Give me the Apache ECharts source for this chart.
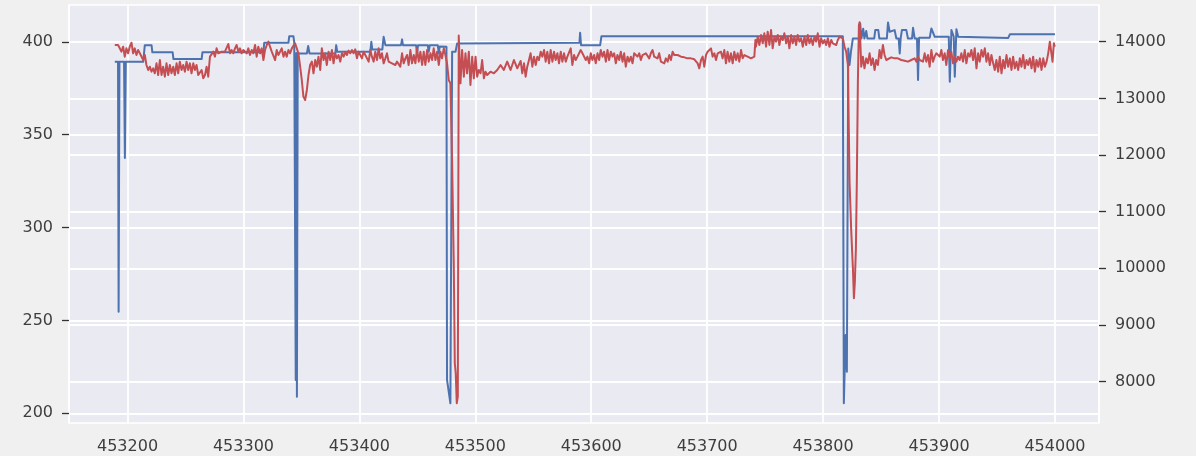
<!DOCTYPE html>
<html>
<head>
<meta charset="utf-8">
<script src="https://cdn.jsdelivr.net/npm/echarts@6/dist/echarts.min.js"></script>
<style>
  html, body { margin: 0; padding: 0; background: #f0f0f0; }
  #chart { width: 1196px; height: 456px; }
</style>
</head>
<body>
<div id="chart"></div>
<script>
// Tick labels for each axis
const xTicks = [453200, 453300, 453400, 453500, 453600, 453700, 453800, 453900, 454000];
const leftTicks = [200, 250, 300, 350, 400];
const rightTicks = [8000, 9000, 10000, 11000, 12000, 13000, 14000];

// Left-axis series: [x, value]
const primaryPoints = [
  [453189.0, 389.2], [453191.8, 389.2], [453192.3, 254.7], [453193.0, 389.2], [453197.0, 389.2],
  [453197.7, 337.4], [453198.5, 389.2], [453213.5, 389.2], [453214.9, 398.2], [453220.7, 398.2],
  [453221.4, 394.3], [453238.9, 394.3], [453239.6, 390.7], [453263.9, 390.7], [453264.6, 394.3],
  [453317.2, 394.3], [453317.9, 399.5], [453338.8, 399.5], [453339.5, 403.0], [453343.1, 403.0],
  [453343.8, 399.5], [453344.6, 399.5], [453345.1, 218.0], [453345.6, 394.0], [453346.1, 208.9],
  [453346.8, 393.7], [453354.7, 393.7], [453355.8, 397.7], [453357.0, 393.7], [453379.2, 393.7],
  [453380.0, 398.2], [453380.9, 394.6], [453409.4, 394.6], [453410.3, 400.0], [453411.1, 395.9],
  [453419.8, 395.9], [453420.9, 402.7], [453422.4, 398.2], [453435.9, 398.2], [453436.8, 401.3],
  [453437.6, 398.2], [453448.9, 398.2], [453449.7, 393.7], [453450.6, 398.2], [453459.0, 398.2],
  [453459.8, 394.6], [453460.7, 398.2], [453467.6, 398.2], [453468.5, 393.7], [453469.3, 397.5],
  [453475.1, 397.3], [453475.6, 218.0], [453477.1, 218.0], [453478.5, 205.4], [453480.0, 394.6],
  [453482.9, 394.6], [453484.3, 399.1], [453589.8, 399.5], [453590.4, 404.8], [453591.2, 398.2],
  [453607.7, 398.2], [453608.8, 403.0], [453817.0, 403.0], [453817.9, 205.4], [453819.4, 242.2],
  [453820.5, 222.4], [453821.7, 396.4], [453822.8, 387.5], [453824.0, 394.6], [453825.7, 401.8],
  [453831.0, 401.8], [453832.0, 409.9], [453833.0, 401.8], [453834.6, 407.0], [453835.6, 401.8],
  [453837.2, 405.8], [453838.2, 401.8], [453844.1, 401.8], [453845.0, 406.3], [453847.6, 406.3],
  [453848.5, 401.8], [453855.0, 401.8], [453856.0, 410.4], [453857.4, 405.4], [453861.7, 406.3],
  [453863.2, 401.8], [453865.2, 401.8], [453866.1, 393.7], [453866.9, 401.8], [453868.0, 406.3],
  [453871.8, 406.3], [453873.2, 401.8], [453876.7, 401.8], [453877.6, 407.5], [453879.0, 401.8],
  [453881.0, 401.8], [453881.9, 379.4], [453882.8, 402.2], [453892.0, 402.2], [453893.4, 407.2],
  [453894.9, 407.5], [453896.3, 402.7], [453908.4, 402.7], [453909.3, 378.5], [453910.7, 406.3],
  [453911.6, 407.2], [453912.7, 402.7], [453913.6, 381.2], [453915.0, 406.8], [453916.5, 402.7],
  [453959.7, 402.1], [453961.1, 404.0], [454000.0, 404.0]
];

// Right-axis series: [x, value]
const secondaryPoints = [
  [453189.0,13942],[453190.4,13912],[453191.8,13942],[453193.3,13883],[453194.7,13824],[453196.2,13912],
  [453197.6,13736],[453199.0,13883],[453200.5,13795],[453201.9,13912],[453203.4,13983],[453204.8,13795],
  [453206.2,13883],[453207.7,13765],[453209.1,13853],[453210.6,13795],[453212.0,13824],[453213.5,13677],
  [453214.9,13765],[453216.3,13589],[453217.8,13501],[453219.2,13559],[453220.7,13471],[453222.1,13530],
  [453223.5,13442],[453225.0,13618],[453226.4,13412],[453227.9,13677],[453229.3,13412],[453230.7,13559],
  [453232.2,13383],[453233.6,13618],[453235.1,13412],[453236.5,13589],[453237.9,13442],[453239.4,13559],
  [453240.8,13412],[453242.3,13618],[453243.7,13442],[453245.1,13648],[453246.6,13501],[453248.0,13589],
  [453249.5,13471],[453250.9,13648],[453252.3,13501],[453253.8,13618],[453255.2,13442],[453256.7,13618],
  [453258.1,13501],[453259.5,13589],[453261.0,13412],[453262.4,13383],[453263.9,13501],[453265.3,13353],
  [453266.8,13412],[453268.2,13559],[453269.6,13383],[453271.1,13736],[453272.5,13706],[453274.0,13824],
  [453275.4,13736],[453276.8,13883],[453278.3,13795],[453279.7,13765],[453281.2,13824],[453282.6,13795],
  [453284.0,13824],[453285.5,13824],[453286.9,13959],[453288.4,13795],[453289.8,13853],[453291.2,13795],
  [453292.7,13883],[453294.1,13942],[453295.6,13824],[453297.0,13883],[453298.4,13795],[453299.9,13853],
  [453301.3,13824],[453302.8,13795],[453304.2,13883],[453305.6,13765],[453307.1,13853],[453308.5,13795],
  [453310.0,13942],[453311.4,13736],[453312.8,13912],[453314.3,13795],[453315.7,13883],[453317.2,13677],
  [453318.6,13853],[453320.1,13942],[453321.5,14001],[453322.9,13912],[453324.4,13824],[453325.8,13853],
  [453327.3,13677],[453328.7,13853],[453330.1,13765],[453331.6,13824],[453333.0,13883],[453334.5,13736],
  [453335.9,13824],[453337.3,13736],[453338.8,13853],[453340.2,13795],[453341.7,13883],[453343.1,13912],
  [453344.5,13971],[453346.0,13883],[453347.4,13795],[453348.9,13559],[453350.3,13324],[453351.7,13030],
  [453353.2,12971],[453354.7,13148],[453356.1,13412],[453357.5,13589],[453359.0,13648],[453360.4,13442],
  [453361.9,13677],[453363.3,13559],[453364.7,13736],[453366.2,13501],[453367.6,13883],[453369.1,13677],
  [453370.5,13795],[453371.9,13589],[453373.4,13824],[453374.8,13677],[453376.3,13853],[453377.7,13618],
  [453379.1,13795],[453380.6,13706],[453382.0,13765],[453383.5,13648],[453384.9,13795],[453386.4,13736],
  [453387.8,13824],[453389.2,13765],[453390.7,13842],[453392.1,13795],[453393.6,13853],[453395.0,13795],
  [453396.4,13865],[453397.9,13706],[453399.3,13824],[453400.8,13795],[453402.2,13706],[453403.6,13824],
  [453405.1,13765],[453406.5,13795],[453408.0,13648],[453409.4,13853],[453410.8,13736],[453412.3,13648],
  [453413.7,13824],[453415.2,13677],[453416.6,13883],[453418.0,13706],[453419.5,13795],[453420.9,13618],
  [453422.4,13706],[453423.8,13795],[453425.2,13648],[453426.7,13677],[453428.1,13618],[453429.6,13648],
  [453431.0,13589],[453432.4,13648],[453433.9,13618],[453435.3,13559],[453436.8,13795],[453438.2,13618],
  [453439.7,13706],[453441.1,13765],[453442.5,13589],[453444.0,13853],[453445.4,13618],[453446.9,13765],
  [453448.3,13618],[453449.7,13883],[453451.2,13648],[453452.6,13824],[453454.1,13589],[453455.5,13824],
  [453456.9,13589],[453458.4,13853],[453459.8,13648],[453461.3,13795],[453462.7,13677],[453464.1,13883],
  [453465.6,13677],[453467.0,13824],[453468.5,13589],[453469.9,13824],[453471.3,13706],[453472.8,13883],
  [453474.2,13765],[453475.6,13618],[453477.1,13324],[453478.5,13265],[453480.0,11853],[453481.4,10088],
  [453482.3,8324],[453483.1,8147],[453484.0,7617],[453484.9,7735],[453485.7,14110],[453487.2,13265],
  [453488.6,13853],[453490.1,13383],[453491.5,13795],[453492.9,13442],[453494.4,13824],[453495.8,13236],
  [453497.3,13736],[453498.7,13353],[453500.2,13736],[453501.6,13383],[453503.0,13501],[453504.5,13442],
  [453505.9,13677],[453507.4,13353],[453508.8,13471],[453510.2,13412],[453513.1,13471],[453516.0,13442],
  [453518.9,13501],[453521.8,13589],[453524.6,13501],[453527.5,13648],[453530.4,13501],[453533.3,13677],
  [453536.2,13530],[453539.1,13660],[453540.5,13442],[453542.0,13618],[453543.4,13383],[453544.8,13559],
  [453546.3,13677],[453547.7,13795],[453549.2,13559],[453550.6,13736],[453552.1,13589],[453553.5,13736],
  [453554.9,13677],[453556.4,13824],[453557.8,13736],[453559.3,13853],[453560.7,13648],[453562.1,13824],
  [453563.6,13618],[453565.0,13853],[453566.5,13648],[453567.9,13824],[453569.3,13677],[453570.8,13795],
  [453572.2,13618],[453573.7,13824],[453575.1,13648],[453576.5,13795],[453578.0,13648],[453579.4,13736],
  [453580.9,13706],[453582.3,13883],[453583.7,13589],[453585.2,13765],[453586.6,13677],[453588.1,13736],
  [453589.5,13706],[453590.9,13853],[453592.4,13795],[453593.8,13824],[453595.3,13677],[453596.7,13736],
  [453598.2,13618],[453599.6,13795],[453601.0,13677],[453602.5,13765],[453603.9,13618],[453605.4,13795],
  [453606.8,13677],[453608.2,13853],[453609.7,13736],[453611.1,13824],[453612.6,13648],[453614.0,13853],
  [453615.4,13677],[453616.9,13824],[453618.3,13736],[453619.8,13795],[453621.2,13618],[453622.6,13765],
  [453624.1,13677],[453625.5,13824],[453627.0,13648],[453628.4,13795],[453629.8,13559],[453631.3,13736],
  [453632.7,13648],[453634.2,13736],[453635.6,13618],[453637.0,13795],[453638.5,13824],[453639.9,13736],
  [453641.4,13795],[453642.8,13677],[453644.2,13765],[453645.7,13736],[453647.1,13795],[453648.6,13765],
  [453650.0,13706],[453651.4,13795],[453652.9,13853],[453654.3,13736],[453655.8,13765],[453657.2,13706],
  [453658.6,13795],[453660.1,13648],[453661.5,13677],[453663.0,13618],[453664.4,13706],[453665.9,13648],
  [453667.3,13765],[453668.7,13677],[453670.2,13824],[453671.6,13765],[453673.1,13736],[453674.5,13765],
  [453677.4,13736],[453680.3,13724],[453683.1,13706],[453686.0,13706],[453688.9,13689],[453691.8,13618],
  [453693.2,13530],[453694.7,13677],[453696.1,13736],[453697.5,13559],[453699.0,13765],[453700.4,13824],
  [453701.9,13795],[453703.3,13883],[453704.7,13736],[453706.2,13795],[453707.6,13677],[453709.1,13795],
  [453710.5,13765],[453711.9,13824],[453713.3,13706],[453714.8,13853],[453716.2,13618],[453717.6,13824],
  [453719.1,13648],[453720.5,13795],[453722.0,13618],[453723.4,13824],[453724.9,13677],[453726.3,13795],
  [453727.7,13648],[453729.2,13853],[453730.6,13706],[453732.1,13765],[453734.9,13736],[453737.8,13706],
  [453739.3,13724],[453740.7,13736],[453741.6,14030],[453742.1,13912],[453743.6,14089],[453745.0,13942],
  [453746.5,14118],[453747.9,13971],[453749.3,14148],[453750.8,13912],[453752.2,14177],[453753.7,13942],
  [453755.1,14207],[453756.5,13883],[453758.0,14089],[453759.4,14001],[453760.9,14118],[453762.3,13942],
  [453763.7,14089],[453765.2,14030],[453766.6,14148],[453768.1,13971],[453769.5,14089],[453770.9,13883],
  [453772.4,14118],[453773.8,13971],[453775.3,14089],[453776.7,13942],[453778.1,14118],[453779.6,14001],
  [453781.0,14060],[453782.5,13912],[453783.9,14089],[453785.4,13942],[453786.8,14118],[453788.2,13971],
  [453789.7,14060],[453791.1,13942],[453792.6,14089],[453794.0,14001],[453795.4,14148],[453796.9,13912],
  [453798.3,14060],[453799.8,13971],[453801.2,14030],[453802.6,13942],[453804.1,14060],[453805.5,13912],
  [453807.0,14030],[453808.4,13971],[453809.8,14001],[453811.3,13942],[453812.7,14030],[453814.2,14089],
  [453815.6,14118],[453817.0,14060],[453818.5,13912],[453819.9,13824],[453821.4,13589],[453822.8,11530],
  [453824.3,10647],[453825.7,10000],[453826.6,9470],[453827.4,9765],[453828.3,10353],[453829.1,11530],
  [453830.0,13294],[453830.9,14295],[453831.5,14342],[453832.9,13559],[453834.3,13736],[453835.7,13530],
  [453837.2,13706],[453838.6,13618],[453840.1,13795],[453841.5,13589],[453842.9,13706],[453844.4,13501],
  [453845.8,13677],[453847.3,13589],[453848.7,13853],[453850.1,13706],[453851.6,13942],[453853.0,13765],
  [453854.5,13677],[453855.9,13706],[453858.8,13724],[453861.7,13706],[453864.5,13706],[453867.4,13677],
  [453870.3,13665],[453873.2,13648],[453876.1,13677],[453879.0,13706],[453880.4,13648],[453881.8,13736],
  [453883.3,13677],[453884.7,13706],[453886.2,13648],[453887.6,13795],[453889.0,13648],[453890.5,13765],
  [453891.9,13559],[453893.4,13853],[453894.8,13648],[453896.2,13736],[453897.7,13795],[453899.1,13824],
  [453900.6,13736],[453902.0,13853],[453903.4,13677],[453904.9,13795],[453906.3,13589],[453907.8,13853],
  [453909.2,13706],[453910.6,13824],[453912.1,13618],[453913.5,13736],[453915.0,13648],[453916.4,13736],
  [453917.8,13677],[453919.3,13795],[453920.7,13648],[453922.2,13853],[453923.6,13618],[453925.1,13795],
  [453926.5,13736],[453927.9,13853],[453929.4,13677],[453930.8,13883],[453932.3,13530],[453933.7,13795],
  [453935.1,13648],[453936.6,13853],[453938.0,13736],[453939.5,13883],[453940.9,13648],[453942.3,13795],
  [453943.8,13589],[453945.2,13765],[453946.7,13618],[453948.1,13501],[453949.5,13677],[453951.0,13471],
  [453952.4,13736],[453953.9,13442],[453955.3,13677],[453956.7,13530],[453958.2,13765],[453959.6,13559],
  [453961.1,13706],[453962.5,13501],[453963.9,13736],[453965.4,13530],[453966.8,13648],[453968.3,13501],
  [453969.7,13706],[453971.1,13559],[453972.6,13765],[453974.0,13530],[453975.5,13677],[453976.9,13589],
  [453978.3,13706],[453979.8,13530],[453981.2,13736],[453982.7,13471],[453984.1,13677],[453985.6,13559],
  [453987.0,13706],[453988.4,13501],[453989.9,13706],[453991.3,13559],[453992.8,13648],[453994.2,13795],
  [453995.6,14001],[453997.1,13971],[453997.9,13648],[453999.1,13971],[453999.9,13912]
];

const chart = echarts.init(document.getElementById('chart'), null, { renderer: 'canvas' });

// Plain integer labels, no thousands separators
const plainNumber = (v) => String(Math.round(v));
const labelText = { color: '#3e3e3e', fontSize: 16, fontFamily: 'DejaVu Sans', formatter: plainNumber };
const gridLine = { show: true, lineStyle: { color: '#ffffff', width: 1.8 } };
const tickMark = { show: true, length: 7, lineStyle: { color: '#333333', width: 1.3 } };

chart.setOption({
  animation: false,
  backgroundColor: '#f0f0f0',
  grid: {
    left: 69, right: 97, top: 5, bottom: 33,
    show: true, backgroundColor: '#eaeaf2',
    borderColor: '#ffffff', borderWidth: 1.5
  },
  xAxis: {
    type: 'value',
    min: 453149.5, max: 454038, splitNumber: 8,
    axisLine: { show: false },
    axisTick: { show: false },
    axisLabel: Object.assign({ margin: 16, customValues: xTicks }, labelText),
    splitLine: gridLine
  },
  yAxis: [
    {
      type: 'value', position: 'left',
      min: 194.8, max: 419.8, splitNumber: 5,
      axisLine: { show: false },
      axisTick: Object.assign({ customValues: leftTicks }, tickMark),
      axisLabel: Object.assign({ margin: 16, customValues: leftTicks }, labelText),
      splitLine: gridLine
    },
    {
      type: 'value', position: 'right',
      min: 7269, max: 14648, splitNumber: 7,
      axisLine: { show: false },
      axisTick: Object.assign({ customValues: rightTicks }, tickMark),
      axisLabel: Object.assign({ margin: 16, customValues: rightTicks }, labelText),
      splitLine: gridLine
    }
  ],
  series: [
    {
      type: 'line', yAxisIndex: 0, data: primaryPoints,
      showSymbol: false, z: 2,
      lineStyle: { color: '#4c72b0', width: 2, join: 'round' },
      itemStyle: { color: '#4c72b0' }
    },
    {
      type: 'line', yAxisIndex: 1, data: secondaryPoints,
      showSymbol: false, z: 3,
      lineStyle: { color: '#c44e52', width: 2, join: 'round' },
      itemStyle: { color: '#c44e52' }
    }
  ]
});
</script>
</body>
</html>
